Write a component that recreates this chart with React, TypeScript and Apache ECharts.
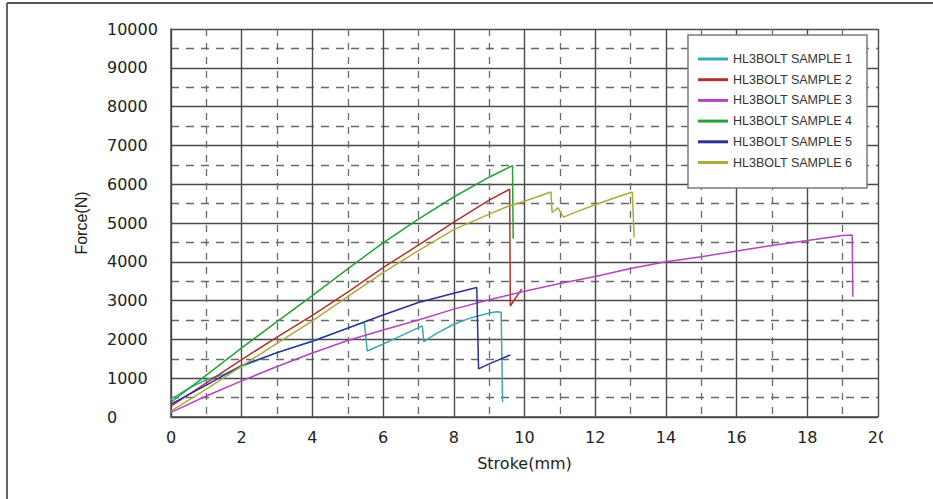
import React, { useEffect, useRef } from "react";
import * as echarts from "echarts";

const xTicks = [0, 2, 4, 6, 8, 10, 12, 14, 16, 18, 20];
const yTicks = [0, 1000, 2000, 3000, 4000, 5000, 6000, 7000, 8000, 9000, 10000];

const seriesNames = [
  "HL3BOLT SAMPLE 1",
  "HL3BOLT SAMPLE 2",
  "HL3BOLT SAMPLE 3",
  "HL3BOLT SAMPLE 4",
  "HL3BOLT SAMPLE 5",
  "HL3BOLT SAMPLE 6",
];
const seriesColors = ["#3aa9a9", "#b2312f", "#b445bd", "#27a138", "#2b2f96", "#acab3c"];

const sample1 = [
  [0, 460], [0.5, 740], [1, 960], [1.5, 1100], [2, 1300], [3, 1660], [4, 1960], [5, 2290],
  [5.47, 2450], [5.55, 1700], [6, 1880], [6.5, 2090], [7.11, 2350], [7.15, 1940],
  [7.5, 2150], [8, 2390], [8.5, 2560], [9, 2680], [9.22, 2710], [9.34, 2700], [9.38, 380],
];
const sample2 = [
  [0, 280], [1, 880], [2, 1480], [3, 2060], [4, 2620], [5, 3220], [6, 3850], [7, 4430],
  [8, 5020], [9, 5590], [9.58, 5870], [9.6, 2860], [9.92, 3300],
];
const sample3 = [
  [0, 120], [1, 540], [2, 930], [3, 1300], [4, 1650], [5, 1970], [6, 2240], [7, 2500],
  [8, 2780], [9, 3020], [10, 3240], [11, 3440], [12, 3620], [13, 3830], [14, 4000],
  [15, 4130], [16, 4280], [17, 4420], [18, 4550], [19, 4680], [19.27, 4690], [19.29, 3100],
];
const sample4 = [
  [0, 380], [1, 1080], [2, 1780], [3, 2460], [4, 3130], [5, 3820], [6, 4490], [7, 5100],
  [8, 5670], [9, 6180], [9.66, 6480], [9.68, 4600],
];
const sample5 = [
  [0, 330], [1, 820], [2, 1330], [3, 1660], [4, 1950], [5, 2290], [6, 2630], [7, 2950],
  [8, 3190], [8.65, 3340], [8.7, 1240], [9, 1370], [9.6, 1600],
];
const sample6 = [
  [0, 150], [1, 720], [2, 1310], [3, 1900], [4, 2480], [5, 3100], [6, 3720], [7, 4290],
  [8, 4830], [9, 5230], [9.5, 5420], [10, 5560], [10.5, 5720], [10.75, 5800], [10.78, 5270],
  [10.95, 5390], [11.1, 5150], [11.5, 5300], [12, 5470], [12.5, 5630], [13.05, 5800], [13.1, 4630],
];

const samples = [sample1, sample2, sample3, sample4, sample5, sample6];

const App: React.FC = () => {
  const ref = useRef<HTMLDivElement>(null);

  useEffect(() => {
    if (!ref.current) return;
    const chart = echarts.init(ref.current, undefined, { renderer: "svg" });
    const gridColor = "#4a4a4a";
    const dashColor = "#6a6a6a";
    const wideFont = "DejaVu Sans";
    const arial = "Liberation Sans, Arial, sans-serif";

    chart.setOption({
      animation: false,
      backgroundColor: "#ffffff",
      textStyle: { fontFamily: arial },
      grid: { left: 171, right: 55, top: 29, bottom: 82, containLabel: false },
      xAxis: {
        type: "value",
        min: xTicks[0],
        max: xTicks[xTicks.length - 1],
        interval: 2,
        name: "Stroke(mm)",
        nameLocation: "middle",
        nameGap: 38,
        nameTextStyle: { fontFamily: wideFont, fontSize: 16, color: "#222" },
        axisLine: { show: true, lineStyle: { color: gridColor, width: 1.5 } },
        axisTick: { show: false },
        axisLabel: {
          fontFamily: wideFont, fontSize: 16, color: "#222", margin: 12,
          formatter: (v: number) => String(v),
        },
        splitLine: { show: true, lineStyle: { color: gridColor, width: 1.4 } },
        minorTick: { show: false, splitNumber: 2 },
        minorSplitLine: { show: true, lineStyle: { color: dashColor, width: 1.3, type: [7, 7] } },
      },
      yAxis: {
        type: "value",
        min: yTicks[0],
        max: yTicks[yTicks.length - 1],
        interval: 1000,
        name: "Force(N)",
        nameLocation: "middle",
        nameGap: 82,
        nameRotate: 90,
        nameTextStyle: { fontFamily: arial, fontSize: 16, color: "#222" },
        axisLine: { show: true, lineStyle: { color: gridColor, width: 1.5 } },
        axisTick: { show: false },
        axisLabel: {
          fontFamily: wideFont, fontSize: 16, color: "#222", margin: 64, align: "left",
          formatter: (v: number) => String(v),
        },
        splitLine: { show: true, lineStyle: { color: gridColor, width: 1.4 } },
        minorTick: { show: false, splitNumber: 2 },
        minorSplitLine: { show: true, lineStyle: { color: dashColor, width: 1.3, type: [8, 7] } },
      },
      legend: {
        orient: "vertical",
        left: 698,
        top: 52,
        padding: 0,
        itemWidth: 30,
        itemHeight: 3,
        itemGap: 6.7,
        icon: "rect",
        z: 10,
        textStyle: { fontFamily: arial, fontSize: 12.5, color: "#333", lineHeight: 14 },
        data: seriesNames,
      },
      graphic: [
        {
          type: "rect",
          z: 1,
          shape: { x: 688, y: 35, width: 179, height: 153 },
          style: { fill: "#ffffff", stroke: "#7a7a7a", lineWidth: 1.5 },
        },
        {
          type: "rect",
          z: 20,
          shape: { x: 883, y: 420, width: 50, height: 40 },
          style: { fill: "#ffffff" },
        },
        {
          type: "line",
          z: 20,
          shape: { x1: 7, y1: 3, x2: 933, y2: 3 },
          style: { stroke: "#555", lineWidth: 2 },
        },
        {
          type: "line",
          z: 20,
          shape: { x1: 7, y1: 3, x2: 7, y2: 499 },
          style: { stroke: "#666", lineWidth: 2 },
        },
      ],
      series: samples.map((d, i) => ({
        name: seriesNames[i],
        type: "line",
        data: d,
        showSymbol: false,
        symbol: "none",
        color: seriesColors[i],
        lineStyle: { color: seriesColors[i], width: 1.5 },
        z: 5,
      })),
    });
    return () => chart.dispose();
  }, []);

  return (
    <div
      ref={ref}
      style={{ position: "fixed", left: 0, top: 0, width: 933, height: 499, background: "#fff" }}
    />
  );
};

export default App;
